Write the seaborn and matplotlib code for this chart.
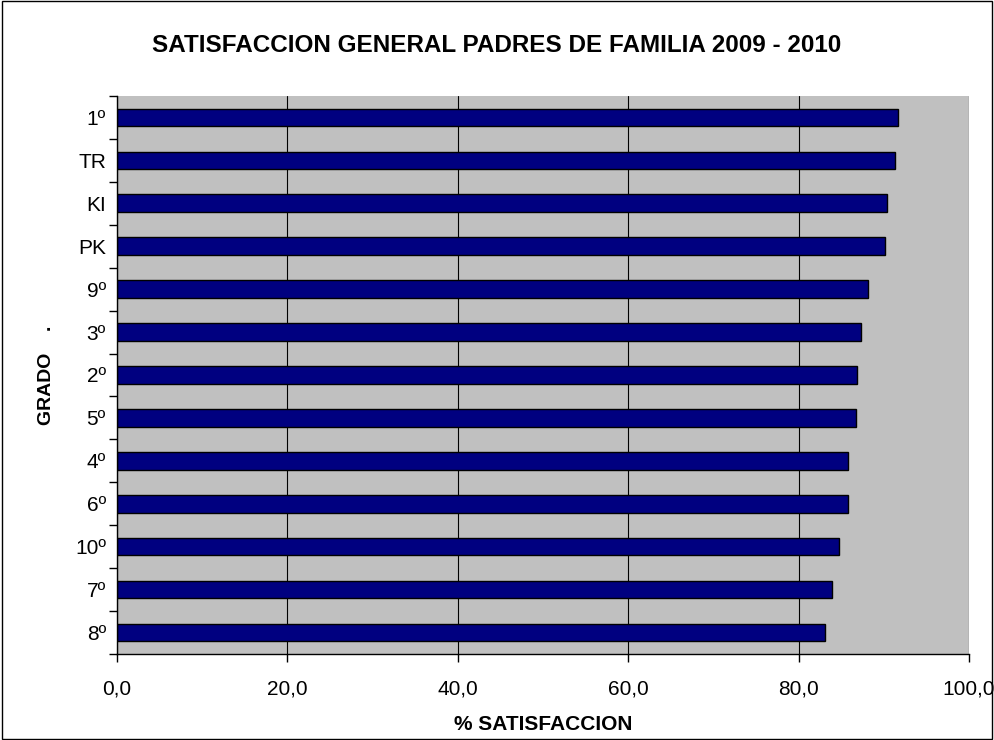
import matplotlib
matplotlib.use("Agg")
import matplotlib.pyplot as plt
import seaborn as sns
import pandas as pd
from matplotlib.patches import Rectangle
from matplotlib.ticker import FuncFormatter, FixedLocator

# Data
grados = ["1º", "TR", "KI", "PK", "9º", "3º", "2º", "5º", "4º", "6º", "10º", "7º", "8º"]
satisfaccion = [91.7, 91.3, 90.4, 90.2, 88.2, 87.3, 86.9, 86.7, 85.8, 85.8, 84.7, 83.9, 83.1]

df = pd.DataFrame({"Grado": grados, "Satisfaccion": satisfaccion})

sns.set_style("white")
plt.rcParams["font.family"] = ["Liberation Sans", "DejaVu Sans"]
plt.rcParams["text.color"] = "black"
plt.rcParams["axes.labelcolor"] = "black"
plt.rcParams["xtick.color"] = "black"
plt.rcParams["ytick.color"] = "black"

fig = plt.figure(figsize=(9.94, 7.4), dpi=100)
ax = fig.add_axes([0.1177, 0.1162, 0.8571, 0.7541])
ax.set_facecolor("#C0C0C0")

sns.barplot(data=df, x="Satisfaccion", y="Grado", order=grados, orient="h",
            color="#000080", edgecolor="black", linewidth=1, width=0.41,
            saturation=1, ax=ax)

# Axis limits and grid
ax.set_xlim(0, 100)
ax.set_ylim(len(grados) - 0.5, -0.5)
ax.set_xticks([0, 20, 40, 60, 80, 100])
ax.xaxis.set_major_formatter(FuncFormatter(lambda v, p: f"{v:.1f}".replace(".", ",")))
ax.grid(axis="x", color="black", linewidth=0.8)
ax.set_axisbelow(True)

# Tick marks between categories
ax.yaxis.set_minor_locator(FixedLocator([i - 0.5 for i in range(len(grados) + 1)]))
ax.tick_params(axis="y", which="major", left=True, length=0, labelsize=15, pad=8)
ax.tick_params(axis="y", which="minor", left=True, length=6, width=1, color="black",
               direction="out")
ax.tick_params(axis="x", which="major", bottom=True, length=6, width=1, color="black",
               direction="out", labelsize=15, pad=12)

for s in ["top", "right"]:
    ax.spines[s].set_visible(False)
for s in ["left", "bottom"]:
    ax.spines[s].set_color("black")
    ax.spines[s].set_linewidth(1)

ax.set_xlabel("% SATISFACCION", fontsize=15, fontweight="bold", labelpad=12)
ax.set_ylabel("GRADO    .", fontsize=14, fontweight="bold")
ax.yaxis.set_label_coords(-0.073, 0.5)

fig.suptitle("SATISFACCION GENERAL PADRES DE FAMILIA 2009 - 2010",
             fontsize=17.5, fontweight="bold", x=0.5, y=0.939, va="center")

# Outer border
fig.patches.append(Rectangle((0.002, 0.002), 0.996, 0.996, transform=fig.transFigure,
                             fill=False, edgecolor="black", linewidth=1))

fig.savefig("out.png", dpi=100)
